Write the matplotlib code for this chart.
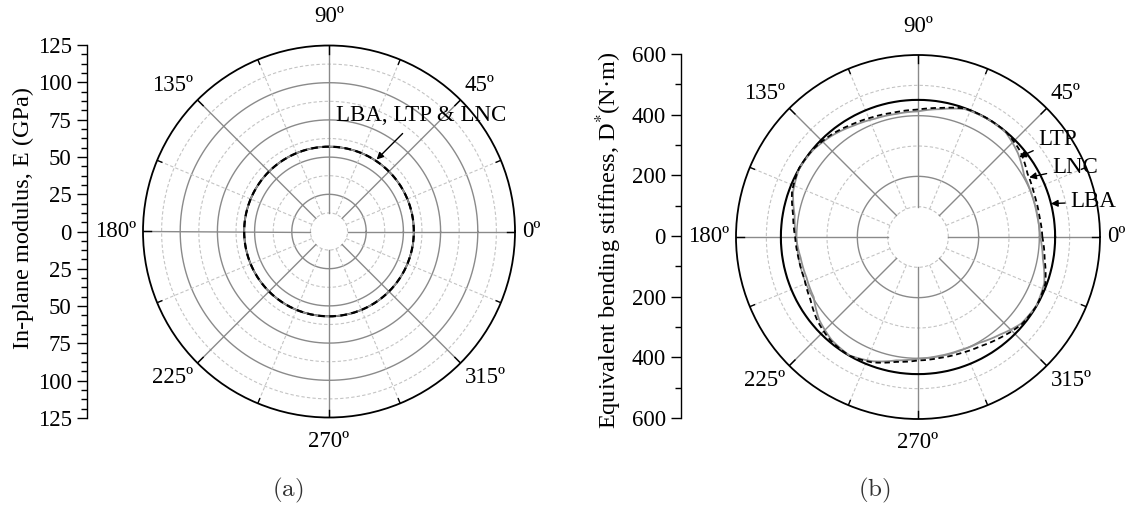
import numpy as np
import matplotlib
matplotlib.use('Agg')
import matplotlib.pyplot as plt
from matplotlib.ticker import MultipleLocator, FuncFormatter

plt.rcParams['font.family'] = ['Liberation Serif', 'DejaVu Serif']
plt.rcParams['mathtext.fontset'] = 'stix'

angles = [0, 10, 20, 30, 40, 50, 60, 70, 80, 90, 100, 110, 120, 130, 140, 150, 160, 170,
          180, 190, 200, 210, 220, 230, 240, 250, 260, 270, 280, 290, 300, 310, 320, 330,
          340, 350, 360]

# (a) in-plane modulus E (GPa) - identical for the three laminates
E_lba = [57, 57, 57, 57, 57, 57, 57, 57, 57, 57, 57, 57, 57, 57, 57, 57, 57, 57,
         57, 57, 57, 57, 57, 57, 57, 57, 57, 57, 57, 57, 57, 57, 57, 57, 57, 57, 57]
E_ltp = [57, 57, 57, 57, 57, 57, 57, 57, 57, 57, 57, 57, 57, 57, 57, 57, 57, 57,
         57, 57, 57, 57, 57, 57, 57, 57, 57, 57, 57, 57, 57, 57, 57, 57, 57, 57, 57]
E_lnc = [57, 57, 57, 57, 57, 57, 57, 57, 57, 57, 57, 57, 57, 57, 57, 57, 57, 57,
         57, 57, 57, 57, 57, 57, 57, 57, 57, 57, 57, 57, 57, 57, 57, 57, 57, 57, 57]

# (b) equivalent bending stiffness D* (N m)
D_lba = [452, 452, 452, 452, 452, 452, 452, 452, 452, 452, 452, 452, 452, 452, 452, 452,
         452, 452, 452, 452, 452, 452, 452, 452, 452, 452, 452, 452, 452, 452, 452, 452,
         452, 452, 452, 452, 452]
D_lnc = [410, 406, 408, 417, 440, 452, 453, 451, 432, 420, 418, 422, 430, 442, 451, 453, 442, 418,
         405, 400, 399, 410, 432, 447, 452, 440, 418, 407, 405, 408, 415, 430, 447, 452,
         447, 424, 410]
D_ltp = [403, 399, 400, 404, 430, 450, 452, 449, 428, 414, 412, 415, 424, 438, 449, 452, 438, 413,
         402, 393, 391, 397, 425, 443, 451, 436, 413, 401, 398, 398, 403, 420, 444, 451,
         443, 418, 403]

angle_labels = ['0º', '45º', '90º', '135º', '180º', '225º', '270º', '315º']

FS = 16.5
W, H = 1130, 507
fig = plt.figure(figsize=(W / 100, H / 100), dpi=100)


def px_rect(cx, cy, r):
    return [(cx - r) / W, 1 - (cy + r) / H, 2 * r / W, 2 * r / H]


def polar_line(ax, th, r, **kw):
    line, = ax.plot(th, r, **kw)
    # let the polar transform draw each segment as an arc instead of a chord
    line.get_path()._interpolation_steps = 30
    return line


def polar_frame(ax, R, r_in, major_r, minor_r, R_px):
    ax.set_ylim(0, R)
    ax.set_xticks([])
    ax.set_yticks([])
    ax.grid(False)
    ax.spines['polar'].set_linewidth(1.3)
    ax.spines['polar'].set_color('black')
    t = np.linspace(0, 2 * np.pi, 721)
    for r in minor_r:
        ax.plot(t, np.full_like(t, r), color='#c4c4c4', lw=0.8, ls=(0, (3, 2)), zorder=1)
    for r in major_r:
        ax.plot(t, np.full_like(t, r), color='#8a8a8a', lw=1.0, zorder=1)
    for a in np.arange(0, 360, 45):
        ax.plot([np.radians(a)] * 2, [r_in, R], color='#8a8a8a', lw=1.0, zorder=1)
        ax.plot([np.radians(a)] * 2, [R - 8 / R_px * R, R], color='black', lw=1.0, zorder=2)
    for a in np.arange(22.5, 360, 45):
        ax.plot([np.radians(a)] * 2, [r_in, R], color='#c4c4c4', lw=0.8, ls=(0, (3, 2)), zorder=1)
        ax.plot([np.radians(a)] * 2, [R - 5 / R_px * R, R], color='black', lw=1.0, zorder=2)
    # angle labels round the rim
    place = [(1.04, 'left', 'center'), (1.03, 'left', 'bottom'), (1.10, 'center', 'bottom'),
             (1.03, 'right', 'bottom'), (1.035, 'right', 'center'), (1.03, 'right', 'top'),
             (1.07, 'center', 'top'), (1.03, 'left', 'top')]
    for k, (f, ha, va) in enumerate(place):
        ax.text(np.radians(45 * k), R * f, angle_labels[k], ha=ha, va=va,
                fontsize=FS, clip_on=False)


def radial_axis(rect, lim, major, minor):
    yx = fig.add_axes(rect)
    yx.set_ylim(-lim, lim)
    yx.set_xticks([])
    for s in ['top', 'right', 'bottom']:
        yx.spines[s].set_visible(False)
    yx.patch.set_visible(False)
    yx.spines['left'].set_linewidth(1.0)
    yx.yaxis.set_major_locator(MultipleLocator(major))
    yx.yaxis.set_minor_locator(MultipleLocator(minor))
    yx.yaxis.set_major_formatter(FuncFormatter(lambda v, p: '%d' % abs(round(v))))
    yx.tick_params(axis='y', which='major', length=7, width=1.0, labelsize=FS, pad=4)
    yx.tick_params(axis='y', which='minor', length=4, width=1.0)
    return yx


th = np.radians(angles)

# Panel (a)
ax_a = fig.add_axes(px_rect(329, 231.5, 186), projection='polar')
polar_frame(ax_a, 125, 12.5, [25, 50, 75, 100], [12.5, 37.5, 62.5, 87.5, 112.5], 186)
polar_line(ax_a, th, E_lba, color='black', lw=1.3, zorder=3)
polar_line(ax_a, th, E_ltp, color='#909090', lw=1.2, zorder=3)
polar_line(ax_a, th, E_lnc, color='black', lw=1.6, ls=(0, (3, 2)), zorder=4)
ax_a.annotate('LBA, LTP & LNC', xy=(np.radians(56.5), 58), xytext=(np.radians(51.7), 99.5),
              ha='center', va='center', fontsize=FS,
              arrowprops=dict(arrowstyle='-|>', color='black', lw=1.0, shrinkA=5, shrinkB=0,
                              mutation_scale=10))
radial_axis([87 / W, 1 - 418 / H, 0.001, (418 - 45) / H], 125, 25, 6.25)
fig.text(23 / W, 1 - 218 / H, 'In-plane modulus, E (GPa)', rotation=90,
         ha='center', va='center', fontsize=17.5)

# Panel (b)
ax_b = fig.add_axes(px_rect(918, 237, 182), projection='polar')
polar_frame(ax_b, 600, 100, [200, 400], [100, 300, 500], 182)
polar_line(ax_b, th, D_lba, color='black', lw=1.5, zorder=3)
polar_line(ax_b, th, D_ltp, color='#909090', lw=1.3, zorder=3)
polar_line(ax_b, th, D_lnc, color='black', lw=1.3, ls=(0, (3, 2)), zorder=4)
arrow = dict(arrowstyle='-|>', color='black', lw=1.0, shrinkA=2, shrinkB=0, mutation_scale=10)
ax_b.annotate('LTP', xy=(np.radians(38.3), 425), xytext=(np.radians(34.9), 562),
              ha='center', va='center', fontsize=FS, arrowprops=arrow)
ax_b.annotate('LNC', xy=(np.radians(28.2), 416), xytext=(np.radians(23.9), 566),
              ha='center', va='center', fontsize=FS, arrowprops=arrow)
ax_b.annotate('LBA', xy=(np.radians(14.1), 452), xytext=(np.radians(11.3), 590),
              ha='center', va='center', fontsize=FS, arrowprops=arrow)
radial_axis([681 / W, 1 - 418 / H, 0.001, (418 - 54) / H], 600, 200, 100)
fig.text(609 / W, 1 - 240 / H, 'Equivalent bending stiffness, D$^{*}$(N·m)', rotation=90,
         ha='center', va='center', fontsize=17.5)

# sub-figure captions
fig.text(288 / W, 1 - 490 / H, r'$\mathrm{(a)}$', math_fontfamily='cm', fontsize=18,
         ha='center', va='center', color='#333333')
fig.text(874 / W, 1 - 490 / H, r'$\mathrm{(b)}$', math_fontfamily='cm', fontsize=18,
         ha='center', va='center', color='#333333')

fig.savefig('out.png', dpi=100)
